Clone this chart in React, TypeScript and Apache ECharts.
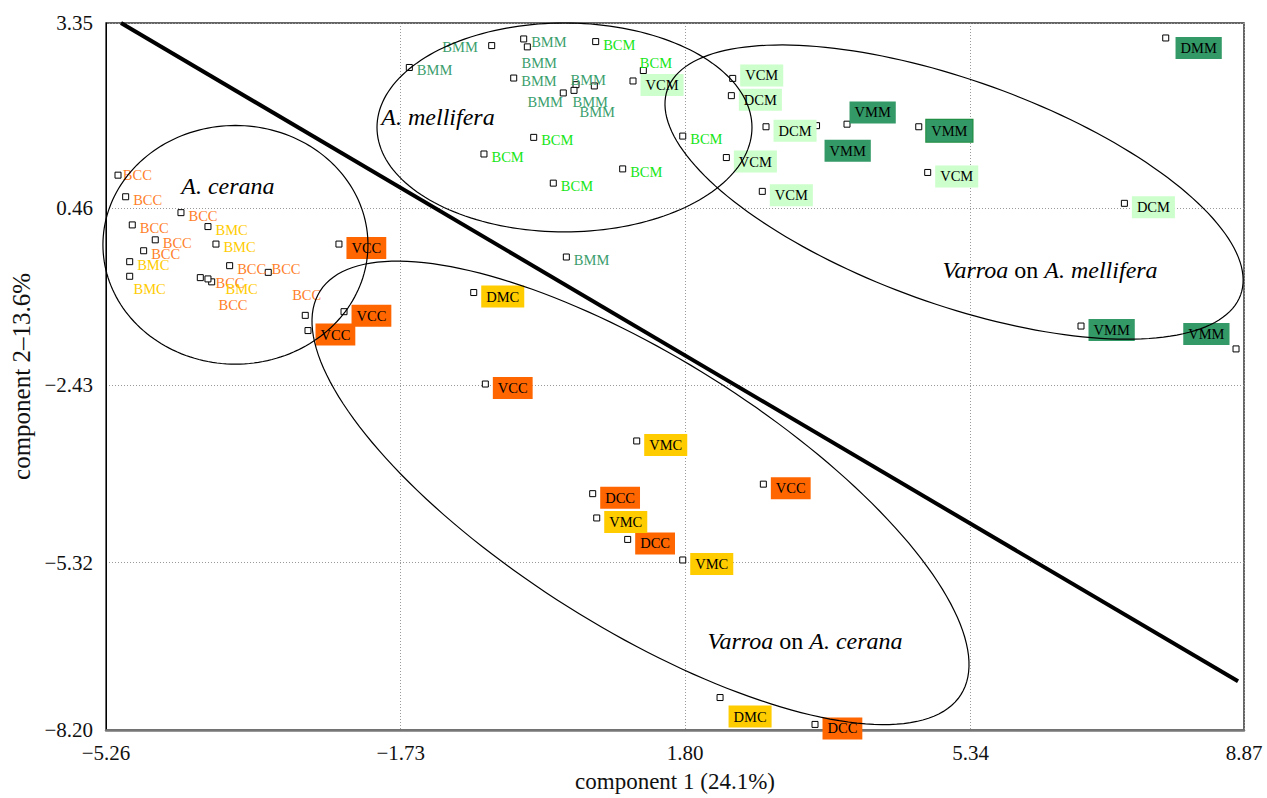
import React, { useEffect, useRef } from "react";
import * as echarts from "echarts";

const FONT = '"Liberation Serif", "Times New Roman", serif';

// axis extents and tick labels
const X_MIN = -5.386;
const X_MAX = 8.732;
const Y_MIN = -8.048;
const Y_MAX = 3.475;
const xTickValues = [X_MIN, -1.73, 1.8, 5.34, X_MAX];
const xTickLabels = ["\u22125.26", "\u22121.73", "1.80", "5.34", "8.87"];
const yTickValues = [Y_MIN, -5.32, -2.43, 0.46, Y_MAX];
const yTickLabels = ["\u22128.20", "\u22125.32", "\u22122.43", "0.46", "3.35"];

// point groups
const bccX = [-5.237, -5.142, -4.456, -5.06, -4.775, -4.919, -3.852, -3.373, -4.216, -4.075, -2.914];
const bccY = [0.995, 0.643, 0.384, 0.184, -0.059, -0.237, -0.48, -0.589, -0.675, -0.744, -1.29];
const bmcX = [-4.121, -4.022, -5.092, -5.092, -4.121];
const bmcY = [0.157, -0.128, -0.415, -0.653, -0.696];
const vccX = [-2.88, -2.496, -2.433, -0.68, 2.769];
const vccY = [-1.538, -0.128, -1.23, -2.409, -4.041];
const dccX = [0.652, 1.086, 3.41];
const dccY = [-4.196, -4.942, -7.957];
const vmcX = [1.198, 0.702, 1.769];
const vmcY = [-3.337, -4.592, -5.277];
const dmcX = [-0.824, 2.232];
const dmcY = [-0.918, -7.519];
const bmmX = [-1.623, -0.601, -0.204, -0.159, -0.328, 0.445, 0.42, 0.287, 0.672, 0.325];
const bmmY = [2.75, 3.107, 3.215, 3.086, 2.578, 2.47, 2.377, 2.335, 2.449, -0.339];
const bcmX = [0.689, 1.28, -0.08, -0.697, 1.024, 0.163, 1.769];
const bcmY = [3.172, 2.701, 1.611, 1.34, 1.097, 0.865, 1.632];
const vcmX = [1.152, 2.389, 2.31, 2.756, 4.808];
const vcmY = [2.53, 2.572, 1.282, 0.731, 1.039];
const dcmX = [2.372, 2.802, 7.248];
const dcmY = [2.291, 1.784, 0.536];
const vmmX = [3.429, 3.807, 4.697, 6.71, 8.633];
const vmmY = [1.802, 1.826, 1.784, -1.464, -1.837];
const dmmX = [7.761];
const dmmY = [3.231];

// separating line
const dividerX = [-5.2, 8.658];
const dividerY = [3.475, -7.255];

// ellipses: centre and two conjugate semi-axes (data units)
const ellipseCX = [-3.78, 0.302, 5.135, 1.245];
const ellipseCY = [-0.14, 1.773, 0.719, -4.183];
const ellipseU = [[1.644, 0], [2.326, 0], [3.555, -1.676], [3.975, -3.289]];
const ellipseV = [[0, -1.945], [0, -1.702], [-0.474, -1.715], [-0.9, -1.857]];

// group annotations
const annotationX = [-3.873, -1.267, 6.326, 3.286];
const annotationY = [0.817, 1.935, -0.545, -6.59];
const annotationTexts = [
  "{i|A. cerana}",
  "{i|A. mellifera}",
  "{i|Varroa} on {i|A. mellifera}",
  "{i|Varroa} on {i|A. cerana}",
];

const groups = [
  { name: "BCC", xs: bccX, ys: bccY, text: "#ff7f2a" },
  { name: "BMC", xs: bmcX, ys: bmcY, text: "#ffcc00" },
  { name: "VCC", xs: vccX, ys: vccY, box: "#ff6600" },
  { name: "DCC", xs: dccX, ys: dccY, box: "#ff6600" },
  { name: "VMC", xs: vmcX, ys: vmcY, box: "#ffcc00" },
  { name: "DMC", xs: dmcX, ys: dmcY, box: "#ffcc00" },
  { name: "BMM", xs: bmmX, ys: bmmY, text: "#3a9e6c" },
  { name: "BCM", xs: bcmX, ys: bcmY, text: "#16e616" },
  { name: "VCM", xs: vcmX, ys: vcmY, box: "#ccffcc" },
  { name: "DCM", xs: dcmX, ys: dcmY, box: "#ccffcc" },
  { name: "VMM", xs: vmmX, ys: vmmY, box: "#339966" },
  { name: "DMM", xs: dmmX, ys: dmmY, box: "#339966" },
];

// label layout tweaks (pixel offsets of labels)
const labelNudges: Record<string, { offset?: [number, number]; side?: string; border?: string }> = {
  "BCC-0": { offset: [-2.7, 0] },
  "BCC-7": { offset: [-4.3, -3.7] },
  "BCC-8": { offset: [10.7, 27] },
  "BCC-9": { offset: [-3.7, 0.7] },
  "BCC-10": { offset: [-20.6, -20.3] },
  "BMC-3": { offset: [-3.7, 12.3] },
  "BMC-4": { offset: [10, 9.7] },
  "BMM-1": { side: "left", offset: [-6.4, 1] },
  "BMM-3": { offset: [-13.3, 16.3] },
  "BMM-5": { offset: [-13, -5] },
  "BMM-6": { offset: [-9, 12] },
  "BMM-7": { offset: [-43.3, 9.4] },
  "BMM-8": { offset: [-22.3, 25.7] },
  "BCM-1": { offset: [-11, -7.4] },
  "VCM-1": { offset: [0, -3] },
  "VMM-0": { offset: [0.5, 25] },
  "VMM-1": { offset: [-5, -11.7] },
  "VMM-2": { border: "#1c8c3c" },
  "VMM-4": { side: "left", offset: [1, -15] },
  "DMM-0": { offset: [2.3, 10] },
  "DMC-1": { offset: [1, 19] },
};

function lookup(values: number[], labels: string[], v: number) {
  for (let i = 0; i < values.length; i++) {
    if (Math.abs(values[i] - v) < 1e-6) return labels[i];
  }
  return "";
}

export default function App() {
  const ref = useRef<HTMLDivElement>(null);

  useEffect(() => {
    document.body.style.margin = "0";
    if (!ref.current) return;
    const chart = echarts.init(ref.current, null, { renderer: "svg" });

    const pointSeries = groups.map((g) => ({
      type: "scatter",
      name: g.name,
      z: 2,
      symbol: "rect",
      symbolSize: 6,
      silent: true,
      itemStyle: { color: "#ffffff", borderColor: "#000000", borderWidth: 1, opacity: 1 },
      data: g.xs.map((x, i) => {
        const n = labelNudges[`${g.name}-${i}`] || {};
        const base: [number, number] = g.box ? [0, 4] : [0, 3];
        const off = n.offset || base;
        const label: any = {
          show: true,
          formatter: g.name,
          position: n.side || "right",
          distance: 4,
          offset: off,
          fontFamily: FONT,
          fontSize: 14.5,
          opacity: 1,
          color: g.box ? "#000000" : g.text,
        };
        if (g.box) {
          label.backgroundColor = g.box;
          label.padding = [4, 5, 3, 5];
          if (n.border) {
            label.borderColor = n.border;
            label.borderWidth = 1;
          }
        }
        return { value: [x, g.ys[i]], label };
      }),
    }));

    const option: any = {
      animation: false,
      backgroundColor: "#ffffff",
      grid: {
        left: 106,
        right: 23,
        top: 23,
        bottom: 64,
        show: true,
        borderColor: "#333333",
        borderWidth: 1.5,
        backgroundColor: "transparent",
      },
      xAxis: {
        type: "value",
        min: X_MIN,
        max: X_MAX,
        name: "component 1 (24.1%)",
        nameLocation: "middle",
        nameGap: 40,
        nameTextStyle: { fontFamily: FONT, fontSize: 23, color: "#111111" },
        axisLine: { show: true, onZero: false, lineStyle: { color: "#777777", width: 2.5 } },
        axisTick: { show: false, customValues: xTickValues },
        axisLabel: {
          customValues: xTickValues,
          formatter: (v: number) => lookup(xTickValues, xTickLabels, v),
          fontFamily: FONT,
          fontSize: 21,
          color: "#111111",
          margin: 12,
        },
        splitLine: { show: true, lineStyle: { type: [1, 2], color: "#9a9a9a", width: 1 } },
      },
      yAxis: {
        type: "value",
        min: Y_MIN,
        max: Y_MAX,
        name: "component 2\u201313.6%",
        nameLocation: "middle",
        nameGap: 70,
        nameTextStyle: { fontFamily: FONT, fontSize: 25, color: "#111111" },
        axisLine: { show: true, onZero: false, lineStyle: { color: "#000000", width: 1 } },
        axisTick: { show: false, customValues: yTickValues },
        axisLabel: {
          customValues: yTickValues,
          formatter: (v: number) => lookup(yTickValues, yTickLabels, v),
          fontFamily: FONT,
          fontSize: 21,
          color: "#111111",
          margin: 13,
        },
        splitLine: { show: true, lineStyle: { type: [1, 2], color: "#9a9a9a", width: 1 } },
      },
      series: [
        ...pointSeries,
        {
          type: "custom",
          name: "ellipses",
          z: 5,
          silent: true,
          clip: false,
          encode: { x: 0, y: 1 },
          data: ellipseCX.map((cx, i) => [
            cx,
            ellipseCY[i],
            ellipseU[i][0],
            ellipseU[i][1],
            ellipseV[i][0],
            ellipseV[i][1],
          ]),
          renderItem: (params: any, api: any) => {
            const cx = api.value(0);
            const cy = api.value(1);
            const ux = api.value(2);
            const uy = api.value(3);
            const vx = api.value(4);
            const vy = api.value(5);
            const pts: number[][] = [];
            const N = 180;
            for (let k = 0; k <= N; k++) {
              const t = (2 * Math.PI * k) / N;
              const c = Math.cos(t);
              const s = Math.sin(t);
              pts.push(api.coord([cx + ux * c + vx * s, cy + uy * c + vy * s]));
            }
            return {
              type: "polyline",
              shape: { points: pts },
              style: { fill: null, stroke: "#000000", lineWidth: 1.2 },
            };
          },
        },
        {
          type: "line",
          name: "divider",
          z: 6,
          silent: true,
          symbol: "none",
          lineStyle: { color: "#000000", width: 4 },
          data: dividerX.map((x, i) => [x, dividerY[i]]),
        },
        {
          type: "scatter",
          name: "annotations",
          z: 7,
          silent: true,
          symbolSize: 0,
          itemStyle: { opacity: 1 },
          data: annotationX.map((x, i) => ({
            value: [x, annotationY[i]],
            label: {
              show: true,
              position: "inside",
              formatter: annotationTexts[i],
              fontFamily: FONT,
              fontSize: 24,
              color: "#000000",
              rich: {
                i: { fontFamily: FONT, fontSize: 24, fontStyle: "italic", color: "#000000" },
              },
            },
          })),
        },
      ],
    };

    chart.setOption(option);
    return () => chart.dispose();
  }, []);

  return (
    <div
      ref={ref}
      style={{ position: "fixed", left: 0, top: 0, width: 1267, height: 798, background: "#fff" }}
    />
  );
}
